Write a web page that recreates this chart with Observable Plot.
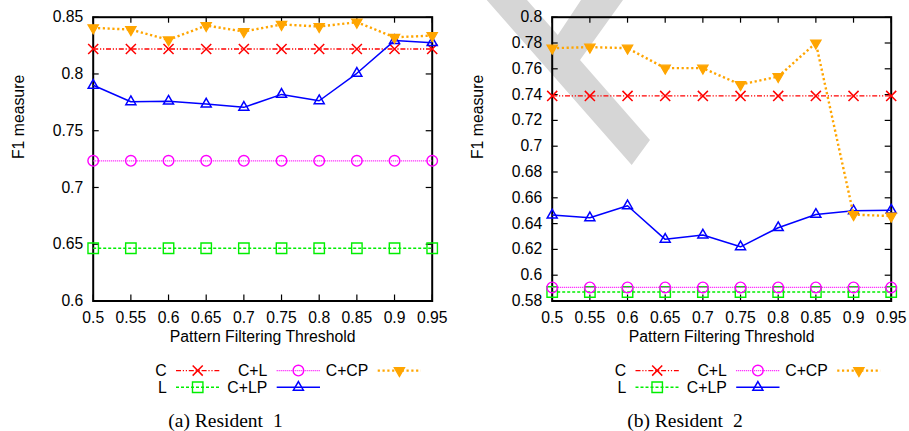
<!DOCTYPE html>
<html><head><meta charset="utf-8">
<script src="https://cdn.jsdelivr.net/npm/d3@7"></script>
<script src="https://cdn.jsdelivr.net/npm/@observablehq/plot@0.6"></script>
<style>
body{margin:0;background:#fff;}
#root{position:relative;width:909px;height:431px;overflow:hidden;font-family:"Liberation Sans",Arial,sans-serif;}
#root > *{position:absolute;}
</style></head><body><div id="root"></div>
<script>
// ---------- data ----------
const thresholds = [0.5, 0.55, 0.6, 0.65, 0.7, 0.75, 0.8, 0.85, 0.9, 0.95];
const xTickLabels = ["0.5", "0.55", "0.6", "0.65", "0.7", "0.75", "0.8", "0.85", "0.9", "0.95"];
const seriesNames = ["C", "L", "C+L", "C+LP", "C+CP"];

// Resident 1
const r1_C    = [0.822, 0.822, 0.822, 0.822, 0.822, 0.822, 0.822, 0.822, 0.822, 0.822];
const r1_L    = [0.6465, 0.6465, 0.6465, 0.6465, 0.6465, 0.6465, 0.6465, 0.6465, 0.6465, 0.6465];
const r1_CL   = [0.7235, 0.7235, 0.7235, 0.7235, 0.7235, 0.7235, 0.7235, 0.7235, 0.7235, 0.7235];
const r1_CLP  = [0.790, 0.7755, 0.776, 0.7735, 0.7706, 0.782, 0.7764, 0.8006, 0.8294, 0.8276];
const r1_CCP  = [0.8406, 0.8391, 0.830, 0.8427, 0.8374, 0.8436, 0.8418, 0.8456, 0.8323, 0.8338];
const r1_yTicks = [0.6, 0.65, 0.7, 0.75, 0.8, 0.85];
const r1_yTickLabels = ["0.6", "0.65", "0.7", "0.75", "0.8", "0.85"];

// Resident 2
const r2_C    = [0.739, 0.739, 0.739, 0.739, 0.739, 0.739, 0.739, 0.739, 0.739, 0.739];
const r2_L    = [0.587, 0.587, 0.587, 0.587, 0.587, 0.587, 0.587, 0.587, 0.587, 0.587];
const r2_CL   = [0.5905, 0.5905, 0.5905, 0.5905, 0.5905, 0.5905, 0.5905, 0.5905, 0.5905, 0.5905];
const r2_CLP  = [0.6466, 0.6445, 0.6538, 0.6278, 0.6311, 0.622, 0.6368, 0.6471, 0.6499, 0.6504];
const r2_CCP  = [0.776, 0.7768, 0.776, 0.7605, 0.7605, 0.7477, 0.754, 0.780, 0.647, 0.6458];
const r2_yTicks = [0.58, 0.6, 0.62, 0.64, 0.66, 0.68, 0.7, 0.72, 0.74, 0.76, 0.78, 0.8];
const r2_yTickLabels = ["0.58", "0.6", "0.62", "0.64", "0.66", "0.68", "0.7", "0.72", "0.74", "0.76", "0.78", "0.8"];

const panelTitles = ["(a) Resident", "(b) Resident"];
const panelTitleNums = ["1", "2"];
const xLabel = "Pattern Filtering Threshold";
const yLabel = "F1 measure";

// ---------- styles ----------
const rad = s => Math.sqrt(s / Math.PI);
const symTimes = {draw(c, s){const r = rad(s)*0.95; c.moveTo(-r,-r); c.lineTo(r,r); c.moveTo(r,-r); c.lineTo(-r,r);}};
const symSquare = {draw(c, s){const r = rad(s)*0.95; c.rect(-r,-r,2*r,2*r);}};
const symCircle = {draw(c, s){const r = rad(s); c.moveTo(r,0); c.arc(0,0,r,0,2*Math.PI);}};
const symTriUp = {draw(c, s){const r = rad(s); c.moveTo(0,-1.155*r); c.lineTo(r,0.577*r); c.lineTo(-r,0.577*r); c.closePath();}};
const symTriDown = {draw(c, s){const r = rad(s); c.moveTo(0,1.155*r); c.lineTo(r,-0.577*r); c.lineTo(-r,-0.577*r); c.closePath();}};

const styles = {
  "C":    {color:"#ff0000", width:1.4, dash:"5,1.8,1.2,1.8,1.2,1.8", sym:symTimes, r:5.3, fill:"none", sw:1.5},
  "L":    {color:"#00ee00", width:1.4, dash:"3,2", sym:symSquare, r:5.5, fill:"none", sw:1.4},
  "C+L":  {color:"#ff00ff", width:1.3, dash:"1,1", sym:symCircle, r:5.3, fill:"none", sw:1.4},
  "C+LP": {color:"#0000ff", width:1.5, dash:null, sym:symTriUp, r:5.0, fill:"none", sw:1.5},
  "C+CP": {color:"#ffa500", width:2.4, dash:"2.2,2.6", sym:symTriDown, r:5.2, fill:"#ffa500", sw:1.2}
};

const W = 459, H = 356;
const M = {left: 92.7, right: 27.3, top: 16.7, bottom: 55.5};
const innerW = W - M.left - M.right, innerH = H - M.top - M.bottom;
const TICK = 6;
const FS = 15.7;

function panel(values, yDomain, yTicks, yTickLabels) {
  const marks = [
    Plot.frame({stroke: "black", strokeWidth: 2}),
    // inward ticks on all four sides
    Plot.tickX(thresholds, {x: d => d, insetTop: innerH - TICK, stroke: "#000", strokeWidth: 1.2}),
    Plot.tickX(thresholds, {x: d => d, insetBottom: innerH - TICK, stroke: "#000", strokeWidth: 1.2}),
    Plot.tickY(yTicks, {y: d => d, insetRight: innerW - TICK, stroke: "#000", strokeWidth: 1.2}),
    Plot.tickY(yTicks, {y: d => d, insetLeft: innerW - TICK, stroke: "#000", strokeWidth: 1.2}),
    Plot.axisX(thresholds, {anchor: "bottom", tickSize: 0, tickPadding: 11, label: null, stroke: "none", fontSize: FS,
      tickFormat: d => xTickLabels[thresholds.indexOf(d)], fill: "#000"}),
    Plot.axisY(yTicks, {anchor: "left", tickSize: 0, tickPadding: 10, label: null, stroke: "none", fontSize: FS,
      tickFormat: d => yTickLabels[yTicks.indexOf(d)], fill: "#000"}),
    Plot.text([xLabel], {text: d => d, frameAnchor: "bottom", dy: 41.2, fontSize: 15.8, fill: "#000"}),
    Plot.text([yLabel], {text: d => d, frameAnchor: "left", dx: -74.4, rotate: -90, fontSize: 15.8, fill: "#000"})
  ];
  seriesNames.forEach((name, si) => {
    const st = styles[name];
    const rows = values[si].map((v, i) => ({x: thresholds[i], y: v}));
    marks.push(Plot.line(rows, {x: "x", y: "y", stroke: st.color, strokeWidth: st.width, strokeDasharray: st.dash, strokeLinecap: "butt"}));
    marks.push(Plot.dot(rows, {x: "x", y: "y", symbol: st.sym, r: st.r, stroke: st.color, fill: st.fill, strokeWidth: st.sw}));
  });
  return Plot.plot({
    width: W, height: H,
    marginLeft: M.left, marginRight: M.right, marginTop: M.top, marginBottom: M.bottom,
    x: {domain: [0.5, 0.95]},
    y: {domain: yDomain},
    style: {fontFamily: '"Liberation Sans", Arial, sans-serif', fontSize: FS + "px", background: "transparent", overflow: "visible", color: "#000"},
    marks
  });
}

const root = document.getElementById("root");

// background watermark (decoration)
const ns = "http://www.w3.org/2000/svg";
const bg = document.createElementNS(ns, "svg");
bg.setAttribute("width", 909); bg.setAttribute("height", 431);
bg.style.left = "0px"; bg.style.top = "0px";
const poly = document.createElementNS(ns, "polygon");
poly.setAttribute("points", "486.7,0 527,0 557.8,35.1 581,0 623,0 580,60 650,140 631.7,165");
poly.setAttribute("fill", "#d6d6d6");
bg.appendChild(poly);
root.appendChild(bg);

const p1 = panel([r1_C, r1_L, r1_CL, r1_CLP, r1_CCP], [0.6, 0.85], r1_yTicks, r1_yTickLabels);
p1.style.left = "0px"; p1.style.top = "0px";
root.appendChild(p1);
const p2 = panel([r2_C, r2_L, r2_CL, r2_CLP, r2_CCP], [0.58, 0.8], r2_yTicks, r2_yTickLabels);
p2.style.left = "459px"; p2.style.top = "0px";
root.appendChild(p2);

// legends and captions
const fg = d3.select(root).append("svg").attr("width", 909).attr("height", 431)
  .style("left", "0px").style("top", "0px").style("pointer-events", "none");
const legendLayout = {"C": [0, 0], "L": [0, 1], "C+L": [1, 0], "C+LP": [1, 1], "C+CP": [2, 0]};
const colTextEnd = [166.7, 267.3, 368.3];
const colSample = [176, 276.7, 377.7];
const rowY = [370.6, 387.3];
[0, 459.5].forEach((off, pi) => {
  const g = fg.append("g").attr("transform", `translate(${off},0)`);
  seriesNames.forEach(name => {
    const [c, r] = legendLayout[name];
    const st = styles[name];
    const y = rowY[r];
    g.append("text").attr("x", colTextEnd[c]).attr("y", y + 5.6).attr("text-anchor", "end")
      .attr("font-family", '"Liberation Sans", Arial, sans-serif').attr("font-size", 15.8).attr("fill", "#000").text(name);
    g.append("line").attr("x1", colSample[c]).attr("x2", colSample[c] + 43.3).attr("y1", y).attr("y2", y)
      .attr("stroke", st.color).attr("stroke-width", st.width).attr("stroke-dasharray", st.dash);
    g.append("path").attr("transform", `translate(${colSample[c] + 21.7},${y})`)
      .attr("d", d3.symbol(st.sym, st.r * st.r * Math.PI)())
      .attr("stroke", st.color).attr("fill", st.fill).attr("stroke-width", st.sw);
  });
  const t = g.append("text").attr("x", 225.5).attr("y", 427).attr("text-anchor", "middle")
    .attr("font-family", '"Liberation Serif", "Times New Roman", serif').attr("font-size", 19.5).attr("fill", "#000");
  t.append("tspan").text(panelTitles[pi]);
  t.append("tspan").attr("dx", 10).text(panelTitleNums[pi]);
});
</script></body></html>
